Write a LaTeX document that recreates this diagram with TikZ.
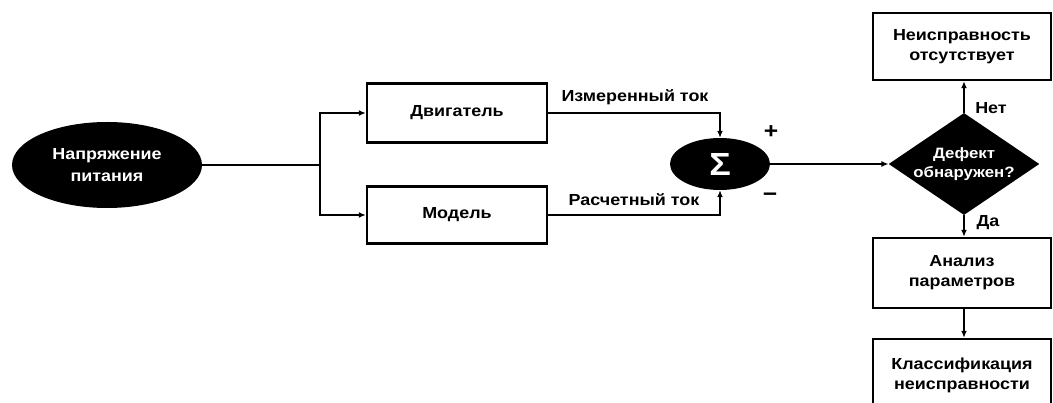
\documentclass[tikz,border=0pt]{standalone}
\usepackage{fontspec}
\setmainfont[FakeStretch=1.12]{Liberation Sans}
\usetikzlibrary{arrows.meta,shapes.geometric}
\begin{document}
\begin{tikzpicture}[x=1pt,y=-1pt,
  txt/.style={font=\bfseries\fontsize{16}{20}\selectfont, align=center},
  box/.style={txt, draw, line width=2.4pt, minimum width=178pt, inner sep=0pt},
  blk/.style={txt, fill=black, text=white, inner sep=0pt},
  conn/.style={line width=2pt},
  arr/.style={conn, -{Latex[length=7pt,width=6pt]}},
  lbl/.style={txt, inner sep=0pt}]
\clip (0,0) rectangle (1053,403);
\node[blk, ellipse, minimum width=190pt, minimum height=86pt, font=\bfseries\fontsize{16}{22}\selectfont] (ps) at (107,165) {Напряжение\\питания};
\node[box, minimum width=180pt, minimum height=59pt] (dv) at (457,113) {Двигатель};
\node[box, minimum width=180pt, minimum height=57pt] (md) at (457,215) {Модель};
\node[blk, ellipse, minimum width=100pt, minimum height=52pt, font=\bfseries\fontsize{32}{34}\selectfont] (sum) at (720,164) {Σ};
\node[blk, diamond, aspect=1.5, minimum width=150pt, minimum height=102pt, font=\bfseries\fontsize{15}{19}\selectfont] (df) at (964,164) {Дефект\\обнаружен?};
\node[box, minimum height=67pt] (ne) at (962,46.5) {Неисправность\\отсутствует};
\node[box, minimum height=70pt] (an) at (962,273) {Анализ\\параметров};
\node[box, minimum height=72pt] (kl) at (962,375) {Классификация\\неисправности};
\coordinate (j) at (320,165);
\draw[conn] (ps.east) -- (j);
\draw[arr] (j) |- (dv.west);
\draw[arr] (j) |- (md.west);
\draw[arr] (dv.east) -| (sum.north);
\draw[arr] (md.east) -| (sum.south);
\draw[arr] (sum.east) -- (df.west);
\draw[arr] (df.north) -- (df.north |- ne.south);
\draw[arr] (df.south) -- (df.south |- an.north);
\draw[arr] (an.south -| df.south) -- (df.south |- kl.north);
\node[lbl] (l1) at (635,97) {Измеренный ток};
\node[lbl] (l2) at (634,200) {Расчетный ток};
\node[lbl, font=\bfseries\fontsize{22}{24}\selectfont] (plus) at (771,132) {+};
\node[lbl, font=\bfseries\fontsize{22}{24}\selectfont] (minus) at (770,197) {\textminus};
\node[lbl] (no) at (991,108) {Нет};
\node[lbl] (yes) at (988,223) {Да};
\end{tikzpicture}
\end{document}
